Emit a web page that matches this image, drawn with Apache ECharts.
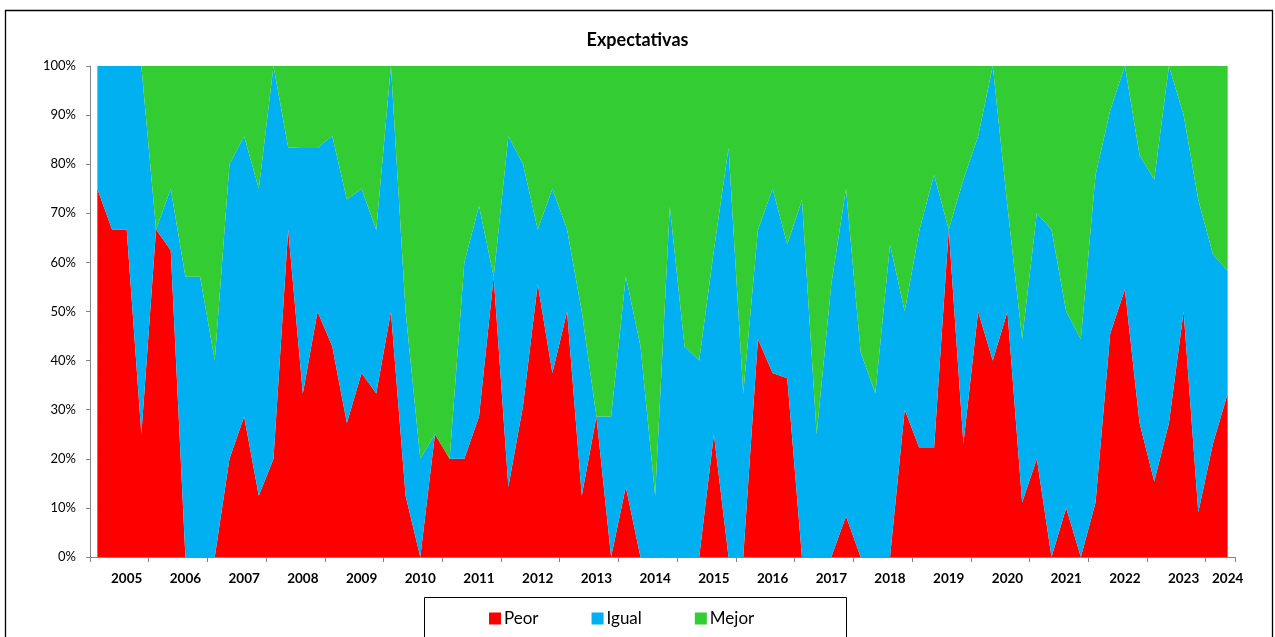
<!DOCTYPE html>
<html>
<head>
<meta charset="utf-8">
<script src="https://cdn.jsdelivr.net/npm/echarts@6/dist/echarts.min.js"></script>
<style>
html,body{margin:0;padding:0;background:#fff;}
#chart{width:1275px;height:637px;}
</style>
</head>
<body>
<div id="chart"></div>
<script>
const categories = [
 '2005T1','2005T2','2005T3','2005T4','2006T1','2006T2','2006T3','2006T4',
 '2007T1','2007T2','2007T3','2007T4','2008T1','2008T2','2008T3','2008T4',
 '2009T1','2009T2','2009T3','2009T4','2010T1','2010T2','2010T3','2010T4',
 '2011T1','2011T2','2011T3','2011T4','2012T1','2012T2','2012T3','2012T4',
 '2013T1','2013T2','2013T3','2013T4','2014T1','2014T2','2014T3','2014T4',
 '2015T1','2015T2','2015T3','2015T4','2016T1','2016T2','2016T3','2016T4',
 '2017T1','2017T2','2017T3','2017T4','2018T1','2018T2','2018T3','2018T4',
 '2019T1','2019T2','2019T3','2019T4','2020T1','2020T2','2020T3','2020T4',
 '2021T1','2021T2','2021T3','2021T4','2022T1','2022T2','2022T3','2022T4',
 '2023T1','2023T2','2023T3','2023T4','2024T1','2024T2'
];

const peor = [
 75,66.7,66.7,25,66.7,62.5,0,0,
 0,20,28.6,12.5,20,66.7,33.3,50,
 42.9,27.3,37.5,33.3,50,12.5,0,25,
 20,20,28.6,57.1,14.3,30.8,55.6,37.5,
 50,12.5,28.6,0,14.3,0,0,0,
 0,0,25,0,0,44.4,37.5,36.4,
 0,0,0,8.3,0,0,0,30,
 22.2,22.2,66.7,23.1,50,40,50,11.1,
 20,0,10,0,11.1,45.5,54.5,27.3,
 15.4,27.3,50,9.1,23.1,33.3
];

const igual = [
 25,33.3,33.3,75,0,12.5,57.1,57.1,
 40,60,57.1,62.5,80,16.7,50,33.3,
 42.9,45.5,37.5,33.3,50,37.5,20,0,
 0,40,42.9,0,71.4,49.2,11.1,37.5,
 16.7,37.5,0,28.6,42.9,42.9,12.5,71.4,
 42.9,40,37.5,83.3,33.3,22.2,37.5,27.3,
 72.7,25,55.6,66.7,41.7,33.3,63.6,20,
 44.4,55.6,0,53.8,35.7,60,21.4,33.3,
 50,66.7,40,44.4,66.7,45.5,45.5,54.5,
 61.5,72.7,40,63.6,38.5,25
];

const mejor = [
 0,0,0,0,33.3,25,42.9,42.9,
 60,20,14.3,25,0,16.7,16.7,16.7,
 14.3,27.3,25,33.4,0,50,80,75,
 80,40,28.6,42.9,14.3,20,33.3,25,
 33.3,50,71.4,71.4,42.9,57.1,87.5,28.6,
 57.1,60,37.5,16.7,66.7,33.4,25,36.4,
 27.3,75,44.4,25,58.3,66.7,36.4,50,
 33.4,22.2,33.3,23.1,14.3,0,28.6,55.6,
 30,33.3,50,55.6,22.2,9.1,0,18.2,
 23.1,0,10,27.3,38.5,41.7
];

const seriesNames = ['Peor','Igual','Mejor'];
const seriesColors = ['#FF0000','#00B0F0','#33CC33'];
const seriesData = [peor, igual, mejor];

const FONT = 'Lato, "Open Sans", sans-serif';
const chart = echarts.init(document.getElementById('chart'), null, {renderer:'canvas'});

const option = {
  backgroundColor: '#ffffff',
  animation: false,
  title: {
    text: 'Expectativas',
    left: 'center',
    top: 26,
    textStyle: {fontFamily: FONT, fontSize: 18, fontWeight: 'bold', color: '#000'}
  },
  legend: {
    data: seriesNames,
    left: 484,
    top: 605,
    icon: 'rect',
    itemWidth: 12,
    itemHeight: 12,
    itemGap: 53,
    textStyle: {fontFamily: FONT, fontSize: 17, color: '#000', width: 50, padding: [0,0,0,-2]}
  },
  grid: {left: 90, right: 40, top: 66, bottom: 80},
  xAxis: {
    type: 'category',
    data: categories,
    boundaryGap: true,
    axisLine: {lineStyle: {color: '#868686', width: 1}},
    axisTick: {
      show: true,
      length: 5,
      interval: (i, v) => v.endsWith('T1'),
      lineStyle: {color: '#868686'}
    },
    axisLabel: {
      interval: (i, v) => v.endsWith('T3') || i === categories.length - 1,
      formatter: v => v.slice(0, 4),
      fontFamily: FONT,
      fontSize: 13.5,
      fontWeight: 'bold',
      color: '#000',
      margin: 15
    },
    splitLine: {show: false}
  },
  yAxis: {
    type: 'value',
    min: 0,
    max: 100,
    interval: 10,
    axisLine: {show: true, lineStyle: {color: '#868686', width: 1}},
    axisTick: {show: true, length: 4, lineStyle: {color: '#868686'}},
    axisLabel: {
      formatter: '{value}%',
      fontFamily: FONT,
      fontSize: 13,
      color: '#000',
      margin: 14
    },
    splitLine: {show: false}
  },
  graphic: [
    {type: 'rect', left: 3, top: 8, shape: {width: 1267, height: 640},
     style: {fill: 'none', stroke: '#000', lineWidth: 1.3}, silent: true, z: 100},
    {type: 'rect', left: 422, top: 595, shape: {width: 422, height: 40},
     style: {fill: 'none', stroke: '#000', lineWidth: 1}, silent: true, z: 100}
  ],
  series: seriesNames.map((name, k) => ({
    name: name,
    type: 'line',
    stack: 'total',
    data: seriesData[k],
    showSymbol: false,
    symbol: 'none',
    lineStyle: {width: 0},
    areaStyle: {color: seriesColors[k], opacity: 1},
    itemStyle: {color: seriesColors[k]},
    clip: true
  }))
};
chart.setOption(option);
</script>
</body>
</html>
